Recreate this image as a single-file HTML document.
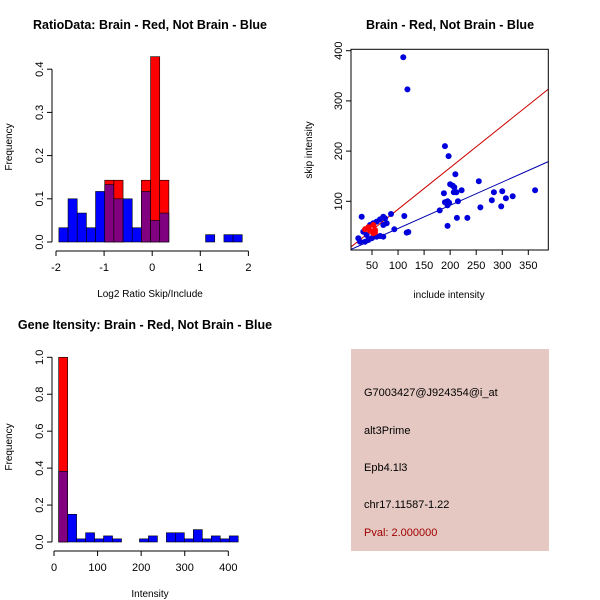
<!DOCTYPE html>
<html><head><meta charset="utf-8"><style>
html,body{margin:0;padding:0;background:#fff}
svg{display:block;font-family:"Liberation Sans",sans-serif}
</style></head><body>
<svg id="root" width="600" height="600" xmlns="http://www.w3.org/2000/svg">
<g id="p1"></g>
<g id="p2"></g>
<g id="p3"></g>
<g id="p4">
<rect x="351" y="349" width="198" height="202" fill="#e5c8c2"/>
<text x="364" y="396" font-size="11" fill="#000">G7003427@J924354@i_at</text>
<text x="364" y="434" font-size="11" fill="#000">alt3Prime</text>
<text x="364" y="471" font-size="11" fill="#000">Epb4.1l3</text>
<text x="364" y="508" font-size="11" fill="#000">chr17.11587-1.22</text>
<text x="364" y="536" font-size="11" fill="#a00000">Pval: 2.000000</text>
</g>
</svg>
<script>
// ---- Ratio histogram data ----
const ratioBinStart = -1.94;
const ratioBinWidth = 0.1906;
const ratioBlue = [0.033,0.1,0.067,0.033,0.117,0.133,0.1,0.1,0.033,0.117,0.05,0.067,0,0,0,0,0.017,0,0.017,0.017];
const ratioRed  = [0,0,0,0,0,0.143,0.143,0,0,0.143,0.429,0.143,0,0,0,0,0,0,0,0];
const ratioXTicks = [-2,-1,0,1,2];
const ratioYTicks = [0.0,0.1,0.2,0.3,0.4];
// ---- Intensity histogram data ----
const intBinStart = 10.7;
const intBinWidth = 20.6;
const intBlue = [0.383,0.15,0.017,0.05,0.017,0.033,0.017,0,0,0.017,0.033,0,0.05,0.05,0.017,0.067,0.017,0.033,0.017,0.033];
const intRed  = [1.0,0,0,0,0,0,0,0,0,0,0,0,0,0,0,0,0,0,0,0];
const intXTicks = [0,100,200,300,400];
const intYTicks = [0.0,0.2,0.4,0.6,0.8,1.0];
// ---- Scatter data ----
const blueX = [110,118,190,197,210,200,205,208,222,207,212,188,255,258,280,284,300,298,307,320,363,195,198,195,190,215,213,233,195,180,
  30.2,86.5,112,92.8,116.6,119.7,71.7,75,65.4,59,52.5,78.2,71.7,46.2,33.3,39.8,36.6,42.9,49.4,59,65.4,71.7,23.7,27];
const blueY = [387,323,210,190,154,134,131,128,122,118,118,116,140,88,102,118,120,90,106,110,122,100,97,92,98,100,67,67,51,82,
  69.3,74.7,70.7,44.2,37.5,38.8,69.3,66,64,59.4,56.2,56.2,52.8,52.8,39.4,32.9,19.5,22.9,26.3,29.5,30.9,29.5,26.3,19.5];
const redX = [36.6,42.9,52.5,55.8,52.5,46.2,55.8];
const redY = [44.2,48.2,52.8,42.8,36.3,41.4,38];
const redLine = [1.05,0.83];   // intercept, slope
const blueLine = [-0.4,0.462];
const scXTicks = [50,100,150,200,250,300,350];
const scYTicks = [100,200,300,400];

const NS="http://www.w3.org/2000/svg";
function mk(parent,tag,attrs){const e=document.createElementNS(NS,tag);for(const k in attrs)e.setAttribute(k,attrs[k]);parent.appendChild(e);return e;}
function txt(parent,x,y,s,attrs){const e=mk(parent,'text',Object.assign({x:x,y:y,'font-size':11,fill:'#000','text-anchor':'middle'},attrs||{}));e.textContent=s;return e;}

function hist(g,o){
  const sx=v=>o.x0+(v-o.dx0)*o.kx, sy=v=>o.y0-v*o.ky;
  txt(g,o.tx,29+o.oy,o.title,{'font-size':12.5,'font-weight':'bold'});
  for(let i=0;i<o.blue.length;i++){
    const a=o.binStart+i*o.binW,b=a+o.binW;
    const r=o.red[i],bl=o.blue[i];
    if(r>0){const e=mk(g,'rect',{x:sx(a),y:sy(r),width:sx(b)-sx(a),height:sy(0)-sy(r),fill:'#ff0000',stroke:'#000','stroke-width':0.6});
      }
    if(bl>0){const e=mk(g,'rect',{x:sx(a),y:sy(bl),width:sx(b)-sx(a),height:sy(0)-sy(bl),fill:r>0?'#800080':'#0000ff',stroke:'#000','stroke-width':0.6});
      }
  }
  const xa=mk(g,'g',{});
  const ay=o.y0+9;
  mk(xa,'line',{x1:sx(o.xt[0]),x2:sx(o.xt[o.xt.length-1]),y1:ay,y2:ay,stroke:'#000'});
  o.xt.forEach(t=>{mk(xa,'line',{x1:sx(t),x2:sx(t),y1:ay,y2:ay+5,stroke:'#000'});txt(xa,sx(t),ay+20,String(t));});
  const ya=mk(g,'g',{});
  const ax=52;
  mk(ya,'line',{x1:ax,x2:ax,y1:sy(o.yt[0]),y2:sy(o.yt[o.yt.length-1]),stroke:'#000'});
  o.yt.forEach(t=>{mk(ya,'line',{x1:ax,x2:ax-5,y1:sy(t),y2:sy(t),stroke:'#000'});
    txt(ya,0,0,t.toFixed(1),{transform:`translate(${ax-9},${sy(t)}) rotate(-90)`});});
  txt(g,150,o.y0+55,o.xlab,{'font-size':10});
  txt(g,0,0,'Frequency',{'font-size':10,transform:`translate(12,${o.y0-95}) rotate(-90)`});
}
hist(document.getElementById('p1'),{title:'RatioData: Brain - Red, Not Brain - Blue',tx:150,oy:0,x0:56,dx0:-2,kx:48.1,y0:242,ky:432,
  binStart:ratioBinStart,binW:ratioBinWidth,blue:ratioBlue,red:ratioRed,xt:ratioXTicks,yt:ratioYTicks,xlab:'Log2 Ratio Skip/Include'});
hist(document.getElementById('p3'),{title:'Gene Itensity: Brain - Red, Not Brain - Blue',tx:145,oy:300,x0:54,dx0:0,kx:0.4358,y0:542,ky:184.7,
  binStart:intBinStart,binW:intBinWidth,blue:intBlue,red:intRed,xt:intXTicks,yt:intYTicks,xlab:'Intensity'});

// scatter
(function(){
  const g=document.getElementById('p2');
  const sx=v=>372+(v-50)*0.521, sy=v=>201.3-(v-100)*0.502;
  const L=351,R=548.3,T=49.3,B=250;
  txt(g,450,29,'Brain - Red, Not Brain - Blue',{'font-size':12.5,'font-weight':'bold'});
  const cp=mk(g,'clipPath',{id:'sc'});mk(cp,'rect',{x:L,y:T,width:R-L,height:B-T});
  const lg=mk(g,'g',{'clip-path':'url(#sc)'});
  const x0=L,x1=R, d0=(x0-372)/0.521+50, d1=(x1-372)/0.521+50;
  const rl=mk(lg,'line',{x1:x0,y1:sy(redLine[0]+redLine[1]*d0),x2:x1,y2:sy(redLine[0]+redLine[1]*d1),stroke:'#cc0000','stroke-width':1});
  
  const bl=mk(lg,'line',{x1:x0,y1:sy(blueLine[0]+blueLine[1]*d0),x2:x1,y2:sy(blueLine[0]+blueLine[1]*d1),stroke:'#0000aa','stroke-width':1});
  
  blueX.forEach((x,i)=>{const c=mk(g,'circle',{cx:sx(x),cy:sy(blueY[i]),r:3,fill:'#0000dd'});
    });
  redX.forEach((x,i)=>{const c=mk(g,'circle',{cx:sx(x),cy:sy(redY[i]),r:3,fill:'#ff0000'});
    });
  const box=mk(g,'rect',{x:L,y:T,width:R-L,height:B-T,fill:'none',stroke:'#000'});
  
  const xa=mk(g,'g',{});
  scXTicks.forEach(t=>{mk(xa,'line',{x1:sx(t),x2:sx(t),y1:B,y2:B+5,stroke:'#000'});txt(xa,sx(t),B+19,String(t));});
  const ya=mk(g,'g',{});
  scYTicks.forEach(t=>{mk(ya,'line',{x1:L,x2:L-5,y1:sy(t),y2:sy(t),stroke:'#000'});
    txt(ya,0,0,String(t),{transform:`translate(${L-9},${sy(t)}) rotate(-90)`});});
  txt(g,449,298,'include intensity',{'font-size':10});
  txt(g,0,0,'skip intensity',{'font-size':10,transform:'translate(312,150) rotate(-90)'});
})();
</script>
</body></html>
